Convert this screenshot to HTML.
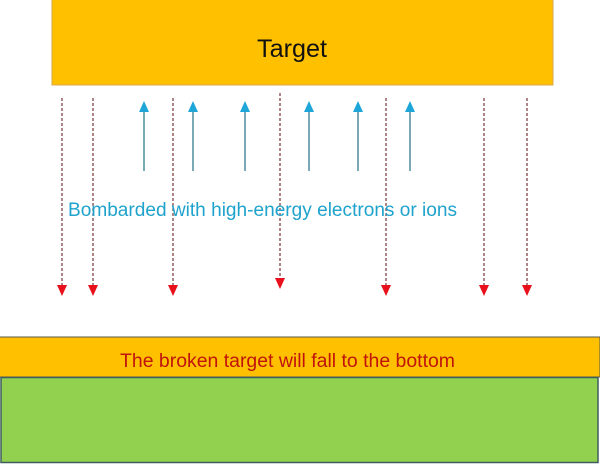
<!DOCTYPE html>
<html><head><style>
body{margin:0;width:600px;height:464px;background:#fff;overflow:hidden;position:relative;font-family:"Liberation Sans",sans-serif}
</style></head><body>
<svg width="600" height="464" style="position:absolute;left:0;top:0">
<rect x="52" y="-1" width="501" height="86" fill="#FFC000" stroke="#d9a94a" stroke-width="1"/>
<text x="292" y="57" font-size="25" text-anchor="middle" fill="#111" font-family="Liberation Sans" textLength="70" lengthAdjust="spacingAndGlyphs">Target</text>
<g stroke="#7a3438" stroke-width="1.2" stroke-dasharray="3,2">
<line x1="62" y1="98" x2="62" y2="286"/>
<line x1="93" y1="98" x2="93" y2="286"/>
<line x1="173" y1="98" x2="173" y2="286"/>
<line x1="280" y1="93" x2="280" y2="279"/>
<line x1="386" y1="98" x2="386" y2="286"/>
<line x1="484" y1="98" x2="484" y2="286"/>
<line x1="527" y1="98" x2="527" y2="286"/>
</g>
<g fill="#e8101a">
<polygon points="57,285 67,285 62,296"/>
<polygon points="88,285 98,285 93,296"/>
<polygon points="168,285 178,285 173,296"/>
<polygon points="275,278 285,278 280,289"/>
<polygon points="381,285 391,285 386,296"/>
<polygon points="479,285 489,285 484,296"/>
<polygon points="522,285 532,285 527,296"/>
</g>
<g stroke="#4a8c9c" stroke-width="1.5">
<line x1="144" y1="110" x2="144" y2="171"/>
<line x1="193" y1="110" x2="193" y2="171"/>
<line x1="245" y1="110" x2="245" y2="171"/>
<line x1="309" y1="110" x2="309" y2="171"/>
<line x1="358" y1="110" x2="358" y2="171"/>
<line x1="410" y1="110" x2="410" y2="171"/>
</g>
<g fill="#1ea6d8">
<polygon points="139,112 149,112 144,101"/>
<polygon points="188,112 198,112 193,101"/>
<polygon points="240,112 250,112 245,101"/>
<polygon points="304,112 314,112 309,101"/>
<polygon points="353,112 363,112 358,101"/>
<polygon points="405,112 415,112 410,101"/>
</g>
<text x="68" y="216" font-size="19" fill="#1fa3cc" textLength="389" lengthAdjust="spacingAndGlyphs">Bombarded with high-energy electrons or ions</text>
<rect x="-1" y="337" width="601" height="40" fill="#FFC000" stroke="#5a5a4a" stroke-width="1"/>
<text x="120" y="367" font-size="19" fill="#c0140c" textLength="335" lengthAdjust="spacingAndGlyphs">The broken target will fall to the bottom</text>
<rect x="1" y="377.5" width="597" height="85" fill="#92D050" stroke="#3e5e5e" stroke-width="1.5"/>
</svg>
</body></html>
